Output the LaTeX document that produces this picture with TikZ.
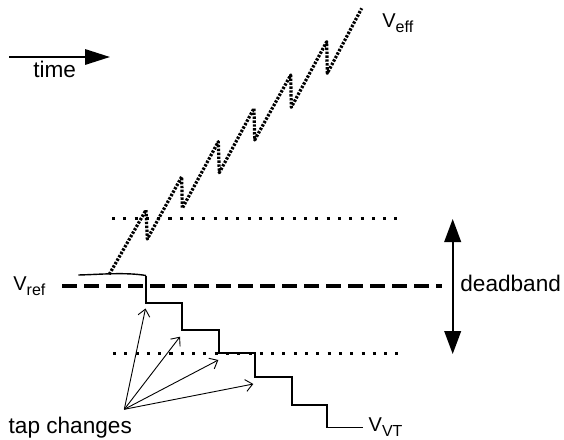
\documentclass[tikz,border=0pt]{standalone}
\usepackage{fontspec}
\setmainfont{Liberation Sans}
\usetikzlibrary{arrows.meta}
\newcommand{\vlab}[1]{{\fontsize{10}{12}\selectfont V\raisebox{-2.6pt}{\fontsize{8}{9}\selectfont #1}}}
\tikzset{
  lbl/.style={inner sep=0pt, anchor=base west, font=\fontsize{11.3}{13.5}\selectfont},
  vtxt/.style={inner sep=0pt, anchor=base west},
  refline/.style={line width=1.6pt, dash pattern=on 7.5pt off 3.5pt},
  bandline/.style={line width=1.5pt, dash pattern=on 1.5pt off 4.15pt},
  effline/.style={line width=1.6pt, dash pattern=on 1.2pt off 0.75pt, line join=round},
  stairline/.style={line width=0.9pt, line join=miter},
  taparrow/.style={line width=0.45pt, -{Straight Barb[length=3.5pt,width=6pt]}},
  bigarrow/.style={line width=1pt},
}
\begin{document}
\begin{tikzpicture}[x=0.5pt,y=-0.5pt]
\useasboundingbox (0,0) rectangle (564,440);
% time arrow
\coordinate (ts) at (9,57);
\coordinate (te) at (110,57);
\draw[bigarrow,-{Triangle[length=12.5pt,width=7.7pt]}] (ts) -- (te);
\node[lbl, anchor=base] (time) at (54.7,77) {time};
% reference dashed line
\coordinate (r1) at (62,286);
\coordinate (r2) at (442,286);
\draw[refline] (r1) -- (r2);
\node[vtxt] (vref) at (13,290) {\vlab{ref}};
% deadband lines
\coordinate (u1) at (112,218.3);
\coordinate (u2) at (400,218.3);
\coordinate (l1) at (113,353.3);
\coordinate (l2) at (402,353.3);
\draw[bandline] (u1) -- (u2);
\draw[bandline] (l1) -- (l2);
% deadband double arrow
\coordinate (dt) at (452.7,219);
\coordinate (db) at (452.7,354);
\draw[bigarrow,{Triangle[length=11.5pt,width=8.3pt]}-{Triangle[length=11.5pt,width=8.3pt]}] (dt) -- (db);
\node[lbl] (dband) at (460,291.7) {deadband};
% V_VT staircase
\draw[line width=0.7pt] (78.3,275) .. controls (100,274.5) and (125,272) .. (146,275.5);
\draw[stairline] (145.7,275.5) -- (145.7,302.7) -- (181.7,302.7) -- (181.7,330) -- (219,330) -- (219,353.3)
  -- (255,353.3) -- (255,377.3) -- (291.7,377.3) -- (291.7,405) -- (326.7,405) -- (326.7,427.5) -- (363.3,427.5);
\node[vtxt] (vvt) at (368.3,431) {\vlab{VT}};
% V_eff sawtooth
\draw[effline] (109.3,274.3) -- (146,210) -- (147.3,239) -- (181.7,176.7) -- (182.3,208.3) -- (218.3,141.7) -- (219.3,172.7)
  -- (254,108.3) -- (254.7,140) -- (290.7,75) -- (291.3,107.3) -- (326.7,41.7) -- (327.3,73.3) -- (361.7,8.3);
\node[vtxt] (veff) at (382,27) {\vlab{eff}};
% tap changes
\node[lbl] (tap) at (8.3,433) {tap changes};
\coordinate (o) at (124.3,409.3);
\coordinate (t1) at (145.5,308.5);
\coordinate (t2) at (180,336.7);
\coordinate (t3) at (218.3,360);
\coordinate (t4) at (253.3,384);
\draw[taparrow] (o) -- (t1);
\draw[taparrow] (o) -- (t2);
\draw[taparrow] (o) -- (t3);
\draw[taparrow] (o) -- (t4);
\end{tikzpicture}
\end{document}
